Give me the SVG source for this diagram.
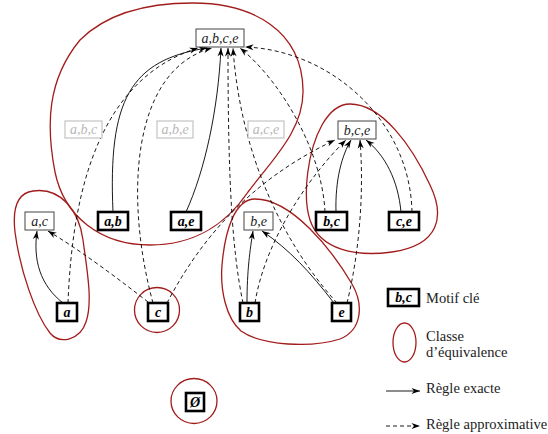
<svg xmlns="http://www.w3.org/2000/svg" width="548" height="434" viewBox="0 0 548 434">
<style>
  .lbl{font-family:"Liberation Serif","Times New Roman",serif;font-style:italic;font-size:14px;text-anchor:middle;fill:#222}
  .key{font-weight:bold;fill:#000}
  .gray{fill:#b8b8b8}
  .box{fill:#fff;stroke:#444;stroke-width:1}
  .kbox{fill:#fff;stroke:#000;stroke-width:2.6}
  .gbox{fill:#fff;stroke:#c4c4c4;stroke-width:1.2}
  .cls{fill:none;stroke:#a31c1c;stroke-width:1.3}
  .ex{fill:none;stroke:#000;stroke-width:0.9;marker-end:url(#arr)}
  .ap{fill:none;stroke:#000;stroke-width:0.9;stroke-dasharray:4 3;marker-end:url(#arr)}
  .leg{font-family:"Liberation Serif","Times New Roman",serif;font-size:14.5px;fill:#222}
</style>
<defs>
  <marker id="arr" markerWidth="10" markerHeight="8" refX="9" refY="4" orient="auto" markerUnits="userSpaceOnUse">
    <path d="M9,4 L0.5,1 L3,4 L0.5,7 Z" fill="#000"/>
  </marker>
</defs>

<g id="classes">
  <path class="cls" d="M193,3 C252,3 302,30 303,90 C304,130 272,160 248,192 C226,224 196,245 150,245 C100,245 64,216 55,172 C46,125 47,80 80,40 C108,12 150,3 193,3 Z"/>
  <path class="cls" d="M33,191 C60,187 79,210 83,240 C87,270 93,302 86,322 C80,340 60,345 50,333 C35,314 20,270 15,232 C12,206 18,193 33,191 Z"/>
  <circle class="cls" cx="157" cy="310" r="22.5"/>
  <path class="cls" d="M255,199 C292,199 332,250 352,284 C364,305 362,330 340,339 C312,348 262,346 241,331 C226,318 220,290 222,265 C225,230 235,199 255,199 Z"/>
  <path class="cls" d="M350,104 C382,104 412,146 430,185 C445,216 440,245 392,252 C356,257 320,250 310,220 C302,195 308,150 322,125 C330,111 340,104 350,104 Z"/>
  <ellipse class="cls" cx="194" cy="401" rx="23" ry="22.5"/>
</g>

<g id="connectors">
  <path class="ap" d="M68,303 C72,200 95,80 198,48"/>
  <path class="ex" d="M113,212 C108,100 130,60 207,48"/>
  <path class="ap" d="M153,303 C125,200 130,70 212,48"/>
  <path class="ex" d="M186,212 C205,170 218,110 221,48"/>
  <path class="ap" d="M243,303 C232,250 228,180 228,48"/>
  <path class="ap" d="M337,303 C280,240 240,150 233,48"/>
  <path class="ap" d="M325,212 C322,150 280,80 240,48"/>
  <path class="ap" d="M412,212 C410,120 330,50 245,47"/>
  <path class="ex" d="M336,212 C335,180 342,155 351,140"/>
  <path class="ex" d="M401,212 C398,180 385,155 366,140"/>
  <path class="ap" d="M167,303 C200,240 250,180 335,140"/>
  <path class="ap" d="M255,303 C265,240 310,175 346,140"/>
  <path class="ap" d="M347,303 C360,250 364,190 360,140"/>
  <path class="ex" d="M63,303 C40,285 33,260 37,231"/>
  <path class="ap" d="M148,302 C120,280 80,250 48,231"/>
  <path class="ex" d="M247,303 C247,270 250,250 253,231"/>
  <path class="ex" d="M334,303 C310,272 290,250 262,231"/>
</g>

<g id="n-abce"><rect class="box" x="196" y="29" width="48" height="18"/><text class="lbl" x="220" y="43">a,b,c,e</text></g>
<g id="n-abc"><rect class="gbox" x="65" y="121" width="37" height="17"/><text class="lbl gray" x="83.5" y="134">a,b,c</text></g>
<g id="n-abe"><rect class="gbox" x="157" y="121" width="36" height="17"/><text class="lbl gray" x="175" y="134">a,b,e</text></g>
<g id="n-ace"><rect class="gbox" x="248" y="121" width="36" height="17"/><text class="lbl gray" x="266" y="134">a,c,e</text></g>
<g id="n-bce"><rect class="box" x="338" y="121" width="38" height="18"/><text class="lbl" x="357" y="135">b,c,e</text></g>
<g id="n-ac"><rect class="box" x="25" y="212" width="29" height="18"/><text class="lbl" x="39.5" y="226">a,c</text></g>
<g id="n-ab"><rect class="kbox" x="98" y="212" width="30" height="18"/><text class="lbl key" x="113" y="226">a,b</text></g>
<g id="n-ae"><rect class="kbox" x="171" y="212" width="30" height="18"/><text class="lbl key" x="186" y="226">a,e</text></g>
<g id="n-be"><rect class="box" x="244" y="212" width="29" height="18"/><text class="lbl" x="258.5" y="226">b,e</text></g>
<g id="n-bc"><rect class="kbox" x="316" y="212" width="31" height="18"/><text class="lbl key" x="331.5" y="226">b,c</text></g>
<g id="n-ce"><rect class="kbox" x="389" y="212" width="30" height="18"/><text class="lbl key" x="404" y="226">c,e</text></g>
<g id="n-a"><rect class="kbox" x="57" y="303" width="20" height="18"/><text class="lbl key" x="67" y="317">a</text></g>
<g id="n-c"><rect class="kbox" x="148" y="303" width="20" height="18"/><text class="lbl key" x="158" y="317">c</text></g>
<g id="n-b"><rect class="kbox" x="240" y="303" width="19" height="18"/><text class="lbl key" x="249.5" y="317">b</text></g>
<g id="n-e"><rect class="kbox" x="332" y="303" width="19" height="18"/><text class="lbl key" x="341.5" y="317">e</text></g>
<g id="n-empty"><rect class="kbox" x="186" y="393" width="18" height="18"/><text class="lbl key" x="195" y="407">Ø</text></g>

<g id="legend">
  <rect class="kbox" x="388" y="289" width="31" height="17"/><text class="lbl key" x="403.5" y="302">b,c</text>
  <text class="leg" x="426" y="303">Motif clé</text>
  <ellipse class="cls" cx="404.5" cy="342.5" rx="11.5" ry="19.5"/>
  <text class="leg" x="426" y="341">Classe</text>
  <text class="leg" x="426" y="357">d’équivalence</text>
  <path class="ex" d="M386,391 L420,391"/>
  <text class="leg" x="426" y="393">Règle exacte</text>
  <path class="ap" d="M386,426 L420,426"/>
  <text class="leg" x="426" y="429">Règle approximative</text>
</g>
</svg>
